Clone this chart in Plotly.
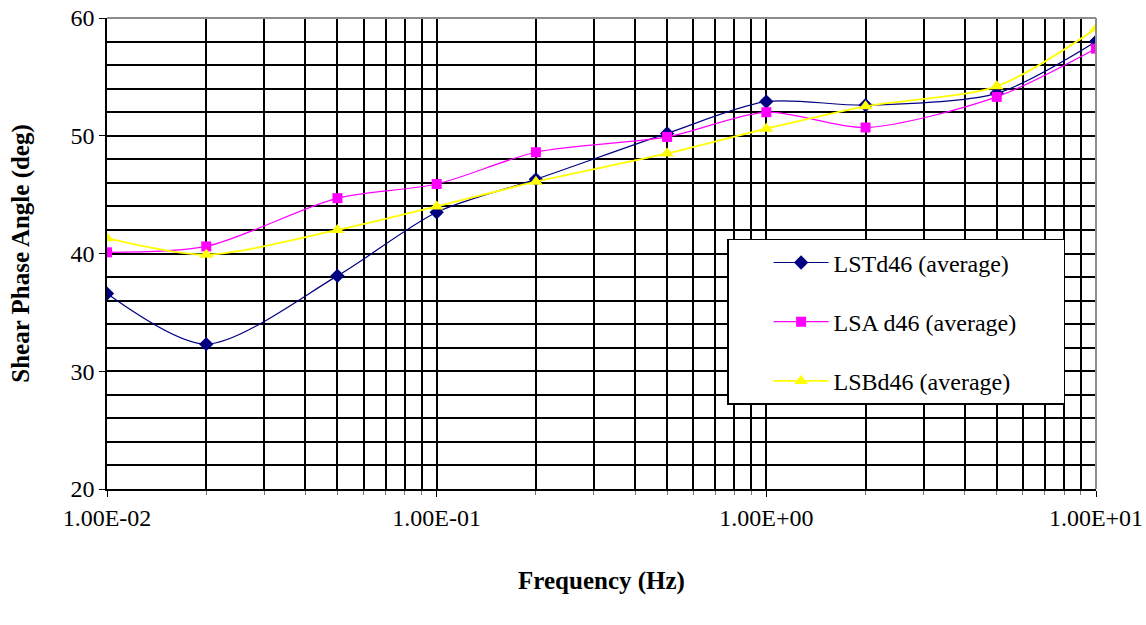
import plotly.graph_objects as go

# Test frequencies (Hz)
frequency = [0.01, 0.02, 0.05, 0.1, 0.2, 0.5, 1.0, 2.0, 5.0, 10.0]

# Shear phase angle (deg), averaged per mix
lstd46 = [36.6, 32.3, 38.1, 43.5, 46.3, 50.2, 52.9, 52.6, 53.6, 58.0]
lsad46 = [40.1, 40.6, 44.7, 45.9, 48.6, 49.9, 52.0, 50.7, 53.3, 57.4]
lsbd46 = [41.3, 39.9, 42.0, 44.0, 46.1, 48.5, 50.6, 52.5, 54.2, 59.1]

series_names = ["LSTd46 (average)", "LSA d46 (average)", "LSBd46 (average)"]

x_tickvals = [0.01, 0.1, 1.0, 10.0]
x_ticktext = ["1.00E-02", "1.00E-01", "1.00E+00", "1.00E+01"]
x_minorvals = [m * d for d in (0.01, 0.1, 1.0) for m in range(2, 10)]

FONT = "Liberation Serif"
PAD = "\u00a0" * 7  # trailing room inside the legend box

fig = go.Figure()

styles = [
    dict(color="#000080", width=1.2, symbol="diamond", size=11),
    dict(color="#FF00FF", width=1.2, symbol="square", size=10),
    dict(color="#FFFF00", width=1.8, symbol="triangle-up", size=12),
]

for i, (name, vals, st) in enumerate(zip(series_names, [lstd46, lsad46, lsbd46], styles)):
    fig.add_trace(go.Scatter(
        x=frequency, y=vals, name=name + PAD, mode="lines+markers",
        line=dict(color=st["color"], width=st["width"], shape="spline", smoothing=0.8),
        marker=dict(color=st["color"], symbol=st["symbol"], size=st["size"]),
        legendgroup=f"g{i}",
    ))

fig.update_layout(
    width=1146, height=625,
    margin=dict(l=107, r=50, t=18, b=136, autoexpand=False),
    paper_bgcolor="white", plot_bgcolor="white",
    font=dict(family=FONT, size=24, color="black"),
    showlegend=True,
    legend=dict(
        x=0.627, y=0.531, xanchor="left", yanchor="top",
        bgcolor="white", bordercolor="black", borderwidth=1.5,
        font=dict(family=FONT, size=24, color="black"),
        tracegroupgap=25, itemwidth=55, indentation=40,
    ),
    xaxis=dict(
        type="log", range=[-2, 1], automargin=False,
        tickvals=x_tickvals, ticktext=x_ticktext,
        showgrid=True, gridcolor="black", gridwidth=1.5,
        showline=True, linecolor="black", linewidth=1.5,
        ticks="outside", ticklen=6, tickcolor="black",
        tickfont=dict(family=FONT, size=24),
        minor=dict(tickvals=x_minorvals, showgrid=True, gridcolor="black", gridwidth=1.5,
                   ticks="outside", ticklen=4, tickcolor="#777777"),
        zeroline=False,
        title=dict(text="<b>Frequency (Hz)</b>", font=dict(family=FONT, size=25), standoff=42),
    ),
    yaxis=dict(
        range=[20, 60], dtick=10, tick0=20, automargin=False,
        showgrid=True, gridcolor="black", gridwidth=1.5,
        showline=True, linecolor="black", linewidth=1.5,
        ticks="outside", ticklen=6, tickcolor="black",
        tickfont=dict(family=FONT, size=24),
        minor=dict(dtick=2, showgrid=True, gridcolor="black", gridwidth=1.5, ticks=""),
        zeroline=False,
        title=dict(text="<b>Shear Phase Angle (deg)</b>", font=dict(family=FONT, size=25), standoff=34),
    ),
)

# Plot-area frame on the top and right edges
fig.add_shape(type="line", xref="paper", yref="paper", x0=0, x1=1, y0=1, y1=1,
              line=dict(color="#8c8c8c", width=2), layer="above")
fig.add_shape(type="line", xref="paper", yref="paper", x0=1, x1=1, y0=0, y1=1,
              line=dict(color="#8c8c8c", width=2), layer="above")

fig.write_html("out.html")
